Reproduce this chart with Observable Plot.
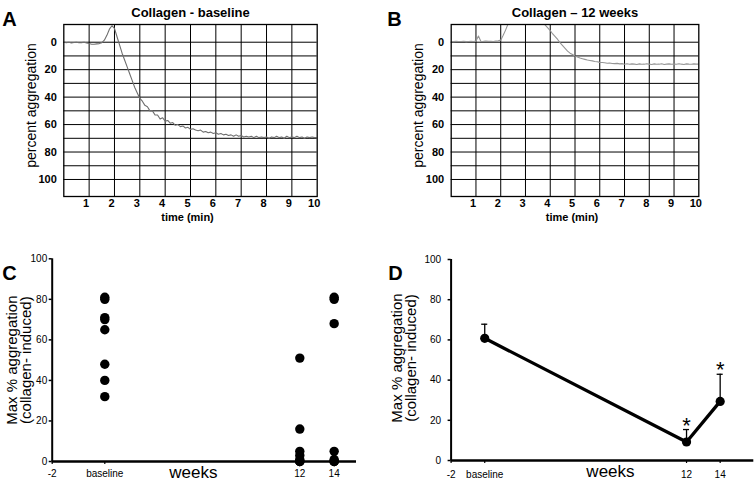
<!DOCTYPE html>
<html><head><meta charset="utf-8">
<script src="https://cdn.jsdelivr.net/npm/d3@7"></script>
<script src="https://cdn.jsdelivr.net/npm/@observablehq/plot@0.6"></script>
<style>
body{margin:0;background:#fff}
#root{position:relative;width:755px;height:484px;overflow:hidden;background:#fff;font-family:Arial,"Liberation Sans",sans-serif}
.panel{position:absolute}
</style></head><body><div id="root"></div>
<script>
// ---- Data ----
const timeStep = 0.1; // minutes between samples
const baselineTrace = [
  0, 0.3, 0, 0.5, 0.2, 0, 0.4, 0.3, 0, 0.5,
  1, 1.5, 1.5, 1.2, 1, 0.3, -1.5, -5, -9.5, -12,
  -10, -4, 2, 8, 13, 18, 23, 28, 33, 37,
  41, 43, 46, 47, 50, 50, 53, 53, 56, 55,
  57.5, 57, 59, 58.5, 60.5, 60, 61.5, 61, 62.5, 62,
  63.5, 63, 64, 64.5, 64, 65.5, 65, 66, 65.5, 66.5,
  66, 67, 66.5, 67.5, 67, 68, 67.5, 68.5, 67.5, 68.5,
  68, 69, 68.5, 69, 68.5, 69.5, 68.5, 69.5, 69, 69.5,
  69, 70, 69, 69.5, 68.5, 69.5, 69, 70, 68.5, 69.5,
  69, 69.5, 68.5, 69.5, 69, 70, 69, 69.5, 69, 69.5, 69.5
];
const week12Trace = [
  -0.5, -0.4, -0.6, -0.5, -0.5, -0.7, -0.4, -0.5, -0.6, -0.5,
  -0.8, -4.5, -0.5, -0.6, -0.8, -0.6, -0.7, -0.5, -0.8, -1,
  -1.5, -5, -9, -13.5, -18, -22, -25, -28, -30, -31,
  -31.5, -31, -30, -28, -26, -22, -18, -14.5, -12.5, -10.5,
  -8.5, -6, -4, -2, 0.5, 2.5, 4.5, 6.5, 8, 9,
  10, 10.8, 11.5, 12, 12.5, 13, 13.3, 13.6, 14, 14.2,
  14.7, 14.8, 15, 15.3, 15.2, 15.5, 15.6, 15.4, 15.8, 15.6,
  16, 15.7, 16.1, 15.8, 16, 16.2, 15.8, 16.1, 16, 15.7,
  16, 16.2, 15.8, 16.1, 16, 15.7, 16.2, 16, 15.8, 16.1,
  15.9, 16.1, 15.7, 16, 16.2, 15.8, 16, 16.1, 15.8, 16, 16
];
const gridPercent = [0, 10, 20, 30, 40, 50, 60, 70, 80, 90, 100];
const gridMinutes = [1, 2, 3, 4, 5, 6, 7, 8, 9];
const percentTicks = [0, 20, 40, 60, 80, 100];
const minuteTicks = [1, 2, 3, 4, 5, 6, 7, 8, 9, 10];

const groupWeeks = [0, 12, 14];            // baseline, 12 weeks, 14 weeks
const cBaseline = [81, 80, 71, 70, 65, 48, 40, 32];
const cWeek12 = [51, 16, 5, 3, 1, 0, 0, 0];
const cWeek14 = [81, 80, 68, 5, 1, 0, 0, 0];
const dMean = [60.8, 9.2, 29.4];
const dSem = [7, 6.2, 13.5];
const dSignificant = [false, true, true];
const weekTicks = [-2, 0, 12, 14];
const weekTickLabels = ["-2", "baseline", "12", "14"];

// ---- Drawing ----
const FONT = 'Arial, "Liberation Sans", sans-serif';
const root = document.getElementById("root");
function place(el, left, top) {
  const d = document.createElement("div");
  d.className = "panel";
  d.style.left = left + "px";
  d.style.top = top + "px";
  d.appendChild(el);
  root.appendChild(d);
}

function tracePanel({values, title, letter, width, frameL, frameR, letterDx, labelDx, traceColor}) {
  const data = values.map((v, i) => ({t: i * timeStep, v}));
  return Plot.plot({
    width, height: 230,
    marginLeft: frameL, marginRight: width - frameR, marginTop: 24, marginBottom: 34,
    style: {fontFamily: FONT, fontSize: "11px", fontWeight: "bold", background: "transparent", color: "#000", overflow: "visible"},
    x: {domain: [0, 10], label: null},
    y: {domain: [-12.9, 112.4], reverse: true, label: null},
    marks: [
      Plot.ruleY(gridPercent, {stroke: "#000", strokeWidth: 1}),
      Plot.ruleX(gridMinutes, {stroke: "#000", strokeWidth: 1}),
      Plot.line(data, {x: "t", y: "v", stroke: traceColor, strokeWidth: 1.1, clip: true}),
      Plot.frame({stroke: "#000", strokeWidth: 1.3}),
      Plot.axisY(percentTicks, {tickSize: 0, tickPadding: 7, label: null, fontWeight: "bold", fontSize: 11}),
      Plot.axisX(minuteTicks, {tickSize: 0, tickPadding: 3, dx: -3, label: null, fontWeight: "bold", fontSize: 11}),
      Plot.text(["time (min)"], {frameAnchor: "bottom", dy: 24, dx: -3, fontSize: 11, fontWeight: "bold"}),
      Plot.text(["percent aggregation"], {frameAnchor: "left", textAnchor: "middle", rotate: -90, dx: labelDx, dy: -5, fontSize: 14, fontWeight: "normal"}),
      Plot.text([title], {frameAnchor: "top", dy: -17, fontSize: 13, fontWeight: "bold"}),
      Plot.text([letter], {frameAnchor: "top-left", textAnchor: "middle", dx: letterDx, dy: -13, fontSize: 20, fontWeight: "bold"})
    ]
  });
}

place(tracePanel({values: baselineTrace, title: "Collagen - baseline", letter: "A", width: 375, frameL: 63.3, frameR: 316.7, letterDx: -54.3, labelDx: -32, traceColor: "#6f6f6f"}), 0, 0);
place(tracePanel({values: week12Trace, title: "Collagen \u2013 12 weeks", letter: "B", width: 380, frameL: 75.7, frameR: 323.3, letterDx: -56.7, labelDx: -32.7, traceColor: "#969696"}), 375, 0);

const yLabel = "Max % aggregation\n(collagen- induced)";
const weekFormat = d => weekTickLabels[weekTicks.indexOf(d)];

// Panel C
const cData = [
  ...cBaseline.map(v => ({week: groupWeeks[0], v})),
  ...cWeek12.map(v => ({week: groupWeeks[1], v})),
  ...cWeek14.map(v => ({week: groupWeeks[2], v}))
];
place(Plot.plot({
  width: 375, height: 254,
  marginLeft: 51.7, marginRight: 19, marginTop: 28.3, marginBottom: 23,
  style: {fontFamily: FONT, fontSize: "10px", background: "transparent", color: "#000", overflow: "visible"},
  x: {type: "linear", domain: [-2, 0, 12, 15.3], range: [51.7, 104.3, 299.3, 356], label: null},
  y: {domain: [0, 100], label: null},
  marks: [
    Plot.ruleX([-2], {y1: 0, y2: 100, stroke: "#000", strokeWidth: 2}),
    Plot.axisY(percentTicks, {tickSize: 3, tickPadding: 2, strokeWidth: 1.5, fontSize: 10, label: null}),
    Plot.axisX(weekTicks, {tickSize: 3, tickPadding: 5, strokeWidth: 1.2, fontSize: 10, tickFormat: weekFormat, label: null}),
    Plot.dot(cData, {x: "week", y: "v", r: 4.7, fill: "#000", stroke: null}),
    Plot.ruleY([0], {x1: -2, x2: 15.3, stroke: "#000", strokeWidth: 2.5}),
    Plot.text(["weeks"], {frameAnchor: "bottom", dx: -11, dy: 16, fontSize: 17}),
    Plot.text([yLabel], {frameAnchor: "left", textAnchor: "middle", lineAnchor: "middle", rotate: -90, dx: -32.7, lineHeight: 0.95, fontSize: 15}),
    Plot.text(["C"], {frameAnchor: "top-left", textAnchor: "middle", dx: -42.7, dy: 6.7, fontSize: 20, fontWeight: "bold"})
  ]
}), 0, 230);

// Panel D
const dData = groupWeeks.map((w, i) => ({week: w, mean: dMean[i], sem: dSem[i], sig: dSignificant[i]}));
place(Plot.plot({
  width: 380, height: 254,
  marginLeft: 75.6, marginRight: 1.7, marginTop: 29, marginBottom: 24,
  style: {fontFamily: FONT, fontSize: "10px", background: "transparent", color: "#000", overflow: "visible"},
  x: {domain: [-2, 16], label: null},
  y: {domain: [0, 100], label: null},
  marks: [
    Plot.ruleX([-2], {y1: 0, y2: 100, stroke: "#000", strokeWidth: 2}),
    Plot.axisY(percentTicks, {tickSize: 3, tickPadding: 7, strokeWidth: 1.5, fontSize: 10, label: null}),
    Plot.axisX(weekTicks, {tickSize: 3, tickPadding: 7, strokeWidth: 1.2, fontSize: 10, tickFormat: weekFormat, label: null}),
    Plot.ruleX(dData, {x: "week", y1: "mean", y2: d => d.mean + d.sem, stroke: "#000", strokeWidth: 1.3}),
    Plot.ruleY(dData, {y: d => d.mean + d.sem, x1: d => d.week - 0.18, x2: d => d.week + 0.18, stroke: "#000", strokeWidth: 1.3}),
    Plot.line(dData, {x: "week", y: "mean", stroke: "#000", strokeWidth: 3.3}),
    Plot.dot(dData, {x: "week", y: "mean", r: 4.6, fill: "#000", stroke: null}),
    Plot.text(dData.filter(d => d.sig), {x: "week", y: d => d.mean + d.sem, text: () => "*", dy: -4, fontSize: 22}),
    Plot.ruleY([0], {x1: -2, x2: 16, stroke: "#000", strokeWidth: 2.5}),
    Plot.text(["weeks"], {frameAnchor: "bottom", dx: 8, dy: 16.7, fontSize: 17}),
    Plot.text([yLabel], {frameAnchor: "left", textAnchor: "middle", lineAnchor: "middle", rotate: -90, dx: -46.6, dy: -2, lineHeight: 0.95, fontSize: 15}),
    Plot.text(["D"], {frameAnchor: "top-left", textAnchor: "middle", dx: -55.6, dy: 6, fontSize: 20, fontWeight: "bold"})
  ]
}), 375, 230);
</script></body></html>
